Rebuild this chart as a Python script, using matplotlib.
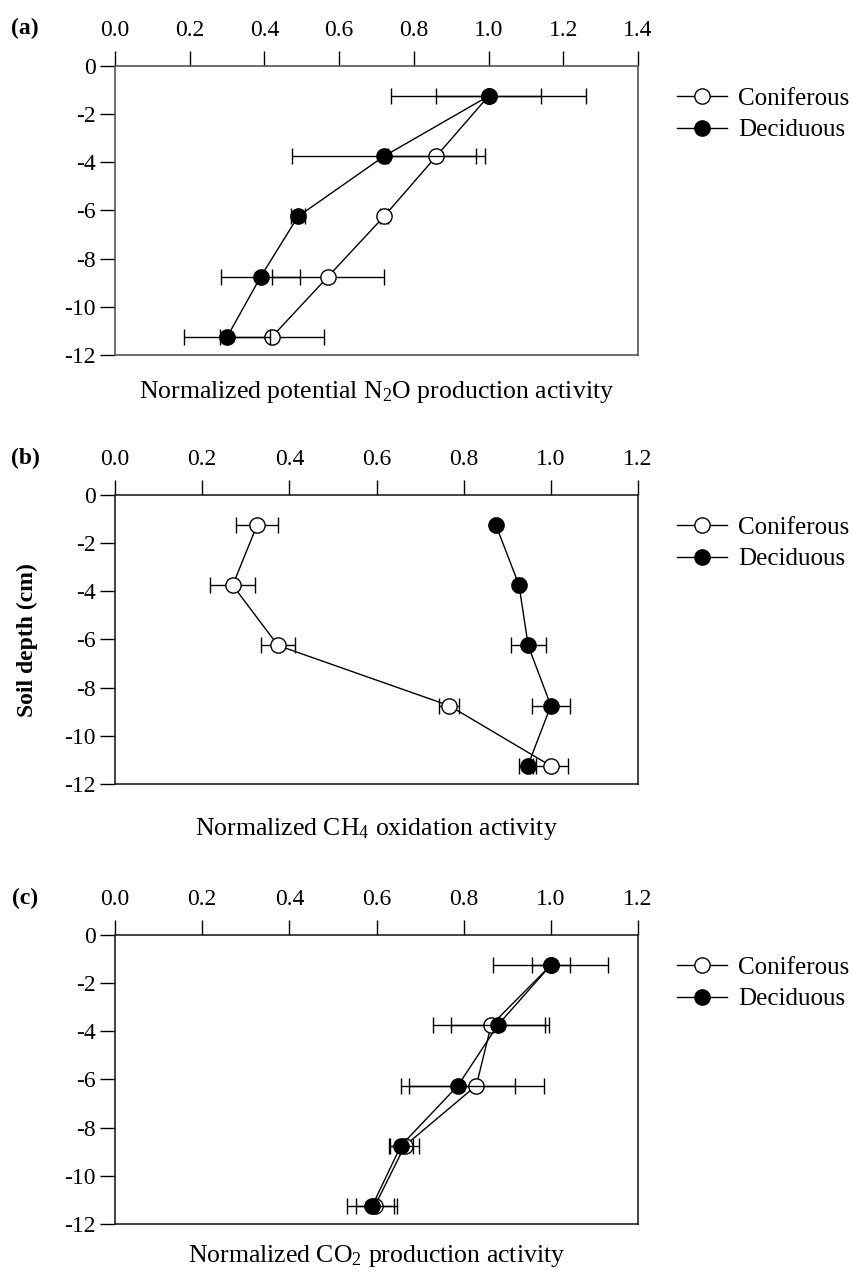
import numpy as np
import matplotlib
matplotlib.use("Agg")
import matplotlib.pyplot as plt

plt.rcParams['font.family'] = ['Liberation Serif', 'DejaVu Serif']
plt.rcParams['mathtext.fontset'] = 'custom'
plt.rcParams['mathtext.rm'] = 'Liberation Serif'
plt.rcParams['mathtext.it'] = 'Liberation Serif:italic'
plt.rcParams['axes.unicode_minus'] = False

# soil depth of each sample layer (cm)
depth = [-1.25, -3.75, -6.25, -8.75, -11.25]
depth_ticks = [0, -2, -4, -6, -8, -10, -12]

# (a) potential N2O production
n2o_con = [1.00, 0.86, 0.72, 0.57, 0.42]
n2o_con_err = [0.14, 0.13, 0.01, 0.15, 0.14]
n2o_dec = [1.00, 0.72, 0.49, 0.39, 0.30]
n2o_dec_err = [0.26, 0.245, 0.018, 0.105, 0.115]

# (b) CH4 oxidation
ch4_con = [0.326, 0.270, 0.374, 0.767, 1.00]
ch4_con_err = [0.049, 0.052, 0.038, 0.023, 0.04]
ch4_dec = [0.874, 0.927, 0.948, 1.00, 0.947]
ch4_dec_err = [0.005, 0.006, 0.04, 0.043, 0.02]

# (c) CO2 production
co2_con = [1.00, 0.863, 0.829, 0.665, 0.596]
co2_con_err = [0.044, 0.133, 0.155, 0.033, 0.043]
co2_dec = [1.00, 0.878, 0.787, 0.656, 0.590]
co2_dec_err = [0.132, 0.108, 0.131, 0.027, 0.057]

panels = [
    ('(a)', n2o_con, n2o_con_err, n2o_dec, n2o_dec_err, 1.4,
     'Normalized potential N$_2$O production activity'),
    ('(b)', ch4_con, ch4_con_err, ch4_dec, ch4_dec_err, 1.2,
     'Normalized CH$_4$ oxidation activity'),
    ('(c)', co2_con, co2_con_err, co2_dec, co2_dec_err, 1.2,
     'Normalized CO$_2$ production activity'),
]

fig = plt.figure(figsize=(8.54, 12.75), dpi=100)
bottoms = [0.7216, 0.3851, 0.040]
label_pads = [17, 23, 14]
ax_h = 0.2267

for (tag, con, con_e, dec, dec_e, xmax, xlab), b, lp in zip(panels, bottoms, label_pads):
    ax = fig.add_axes([0.1347, b, 0.6124, ax_h])
    # coniferous first, deciduous drawn on top
    ax.errorbar(con, depth, xerr=con_e, fmt='none', ecolor='black',
                elinewidth=1, capsize=6, capthick=1, zorder=2)
    ax.plot(con, depth, color='black', lw=1, marker='o', ms=11, mfc='white',
            mec='black', mew=1, label='Coniferous', zorder=3)
    ax.errorbar(dec, depth, xerr=dec_e, fmt='none', ecolor='black',
                elinewidth=1, capsize=6, capthick=1, zorder=4)
    ax.plot(dec, depth, color='black', lw=1, marker='o', ms=11, mfc='black',
            mec='black', mew=1, label='Deciduous', zorder=5)
    ax.set_xlim(0, xmax)
    ax.set_ylim(-12, 0)
    xt = np.round(np.arange(0, xmax + 0.01, 0.2), 1)
    ax.set_xticks(xt)
    ax.set_xticklabels(['%.1f' % v for v in xt])
    ax.set_yticks(depth_ticks)
    ax.set_yticklabels([str(v) for v in depth_ticks])
    ax.xaxis.tick_top()
    ax.xaxis.set_label_position('bottom')
    ax.tick_params(axis='x', direction='out', length=11, width=1, pad=7,
                   labelsize=17, top=True, bottom=False)
    ax.tick_params(axis='y', direction='out', length=11, width=1, pad=3,
                   labelsize=17, right=False)
    for s in ax.spines.values():
        s.set_linewidth(1.2)
        s.set_color('#222222' if tag != '(a)' else '#555555')
    ax.set_xlabel(xlab, fontsize=18.5, labelpad=lp)
    ax.legend(loc='upper left', bbox_to_anchor=(1.075, 0.925), frameon=False,
              fontsize=18, handlelength=2.0, handletextpad=0.45,
              labelspacing=0.35, borderpad=0, borderaxespad=0)
    fig.text(25 / 854, b + ax_h + 37 / 1275, tag, fontsize=17,
             fontweight='bold', ha='center', va='center')

fig.text(27 / 854, 0.498, 'Soil depth (cm)', rotation=90, fontsize=17,
         fontweight='bold', ha='center', va='center')

fig.savefig('out.png', dpi=100)
